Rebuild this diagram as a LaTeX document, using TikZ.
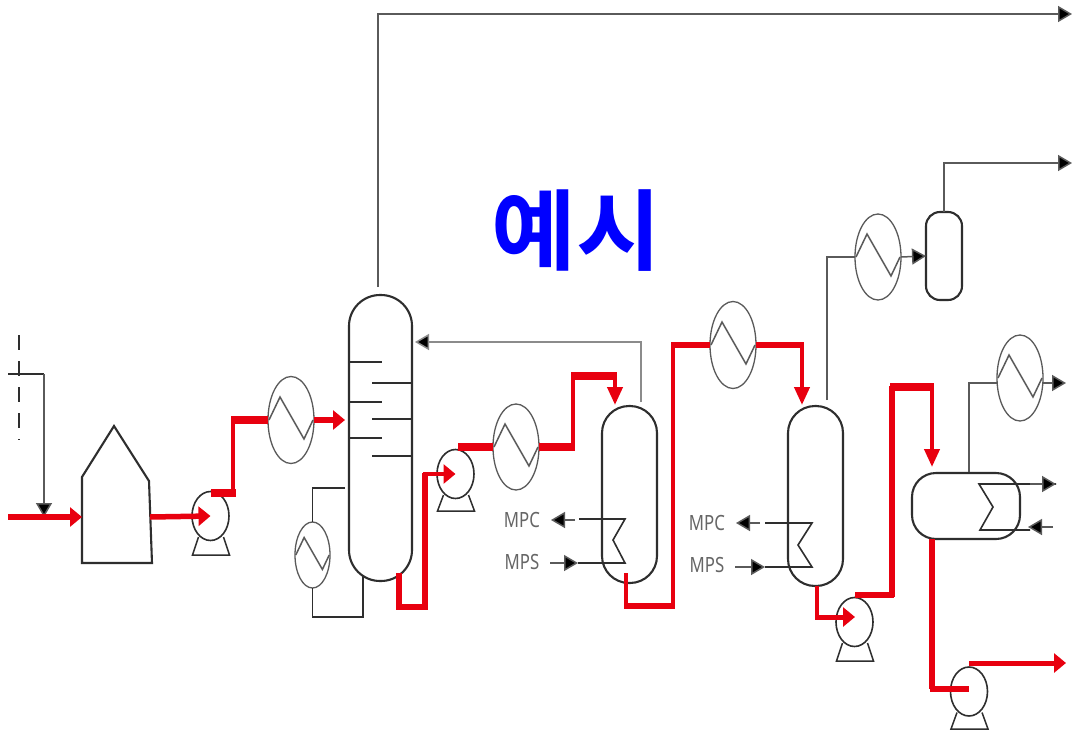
\documentclass[tikz,border=0pt]{standalone}
\usepackage{fontspec}
\setmainfont{Noto Sans}
\newfontfamily\cjk{Noto Sans CJK KR}[BoldFont={* Bold}]
\usetikzlibrary{arrows.meta,shapes.geometric,calc}
\definecolor{pipered}{HTML}{E8000F}
\definecolor{ink}{HTML}{2E2E2E}
\definecolor{thin}{HTML}{5A5A5A}
\definecolor{lab}{HTML}{666666}
\tikzset{
  x=1pt,y=-1pt,
  eqline/.style={draw=ink,line width=1.7pt},
  hxer/.style={ellipse,draw=thin,line width=1.3pt,fill=white,inner sep=0pt,outer sep=0pt,minimum width=#1},
  vessel/.style={rectangle,draw=ink,line width=2.1pt,fill=white,inner sep=0pt,outer sep=0pt},
  pumpbody/.style={ellipse,draw=ink,line width=1.6pt,fill=white,inner sep=0pt,minimum width=37pt,minimum height=49pt},
  rp/.style={draw=pipered,line width=4.5pt,line join=miter},
  rpthick/.style={draw=pipered,line width=7.5pt},
  rtip/.style={draw=pipered,line width=5.5pt,-{Triangle[fill=pipered,length=12pt,width=19pt]}},
  rtipthin/.style={draw=pipered,line width=4pt,-{Triangle[fill=pipered,length=18pt,width=15pt]}},
  gp/.style={draw=thin,line width=1.5pt},
  gtip/.style={draw=thin,line width=1.5pt,-{Triangle[fill=black,length=14pt,width=16pt]}},
  coil/.style={draw=ink,line width=1.6pt},
  lbl/.style={text=lab,font=\fontsize{21}{21}\selectfont,inner sep=0pt,xscale=0.8},
}
\newcommand{\pumpbase}[2]{\draw[gp,draw=ink] ($(#1.center)+(-12,21)$) -- ($(#1.center)+(-18,#2)$) -- ($(#1.center)+(19,#2)$) -- ($(#1.center)+(13,21)$);}
\newcommand{\zigzag}[2]{\draw[draw=thin,line width=1.5pt,line join=miter] ($(#1.center)+#2*(-22,0)$) -- ($(#1.center)+#2*(-11,-23)$) -- ($(#1.center)+#2*(13,19)$) -- ($(#1.center)+#2*(22,0)$);}
\begin{document}
\begin{tikzpicture}
\useasboundingbox (0,0) rectangle (1072,734);
\fill[white] (0,0) rectangle (1072,734);

\coordinate (feedL) at (8,517);
\coordinate (utilL) at (8,374);
\coordinate (dashT) at (19,335);
\coordinate (dashB) at (19,440);
\coordinate (utilR) at (44,374);
\coordinate (utilT) at (44,517);
\coordinate (end1) at (1072,14);
\coordinate (end2) at (1072,163);

% title
\node[font={\cjk\bfseries\fontsize{88}{88}\selectfont},text=blue,inner sep=0pt,xscale=1.05] (title) at (576.5,231) {예시};

% equipment
\node[hxer=46pt,minimum height=87pt] (hxA) at (291,420) {};
\node[hxer=35pt,minimum height=66pt] (hxB) at (312.5,555) {};
\node[hxer=46pt,minimum height=86pt] (hxC) at (516,447) {};
\node[hxer=46pt,minimum height=87pt] (hxD) at (733,345) {};
\node[hxer=46pt,minimum height=86pt] (hxE) at (878,257) {};
\node[hxer=46pt,minimum height=86pt] (hxF) at (1020,378) {};

\node[vessel,minimum width=63pt,minimum height=286pt,rounded corners=31pt] (col) at (380.5,438) {};
\node[vessel,minimum width=55pt,minimum height=177pt,rounded corners=27pt] (vA) at (629.5,494.5) {};
\node[vessel,minimum width=55pt,minimum height=180pt,rounded corners=27pt] (vB) at (815.5,496) {};
\node[vessel,minimum width=36pt,minimum height=88pt,rounded corners=14pt] (rec) at (944,256) {};
\node[vessel,minimum width=108pt,minimum height=66pt,rounded corners=24pt] (drum) at (966,506) {};

\node[pumpbody] (pA) at (210.5,516) {};
\node[pumpbody] (pB) at (455.5,474) {};
\node[pumpbody] (pC) at (854.5,622) {};
\node[pumpbody] (pD) at (969,691.5) {};
\pumpbase{pA}{39}
\pumpbase{pB}{37}
\pumpbase{pC}{39}
\pumpbase{pD}{37.5}

\draw[ink,line width=2.1pt,line join=miter,fill=white] (82,477) -- (114,426) -- (149,481) -- (152,563) -- (82,563) -- cycle;
\node[inner sep=0pt,minimum size=0pt] (furn) at (116,517) {};

\zigzag{hxA}{1}
\zigzag{hxB}{0.76}
\zigzag{hxC}{1}
\zigzag{hxD}{1}
\zigzag{hxE}{1}
\zigzag{hxF}{1}

% column trays
\foreach \yy in {362,402,438} \draw[eqline] (349,\yy) -- (382,\yy);
\foreach \yy in {383,419,456} \draw[eqline] (372,\yy) -- (412,\yy);

% reboiler loop
\draw[coil] (345,488) -| (hxB.north);
\draw[coil] (hxB.south) |- (363,617) -- (363,575);

% utility and feed
\draw[draw=ink,line width=2.2pt,dash pattern=on 15pt off 11pt] (dashT) -- (dashB);
\draw[coil] (utilL) -- (utilR);
\draw[gtip] (utilR) -- (utilT);

% grey overhead lines
\draw[gtip] (378,287) |- (end1);
\draw[gtip,draw=thin!70] (641,402) |- (415,342);
\draw[gp] (827,400) |- (hxE.west);
\draw[gtip] (hxE.east) -- (rec.west);
\draw[gtip] (rec.north) |- (end2);
\draw[gp] (969,472) |- (998,383);
\draw[gtip] (1043,383) -- (1066,383);

% vessel coils
\draw[coil] (579,519) -- (625,519) -- (613,540) -- (625,563) -- (578,563);
\draw[gtip] (575,520) -- (551,520);
\draw[gtip] (550,563) -- (578,563);
\draw[coil] (765,523) -- (812,523) -- (798,545) -- (812,567) -- (765,567);
\draw[gtip] (760,523) -- (736,523);
\draw[gtip] (735,567) -- (765,567);
\draw[coil,line join=miter] (1056,484) -- (979,484) -- (993,507) -- (980,530) -- (1030,530);
\draw[gtip] (1030,484) -- (1056,484);
\draw[gtip] (1053,527) -- (1028,527);

% red process lines
\draw[rtip] (feedL) -- (82,517);
\draw[rtip] (150,517) -- (pA.center);
\draw[rp] (233,495) -- (233,420);
\draw[rpthick] (211,493) -- (235.5,493);
\draw[rpthick] (231,420) -- (hxA.west);
\draw[rtip] (hxA.east) -- (345,420);
\draw[rp,line width=5.5pt] (399,573) -- (399,607) -- (425,607) -- (425,473);
\draw[rtip,line width=4.5pt] (423,474) -- (pB.center);
\draw[rpthick] (458,447) -- (hxC.west);
\draw[rpthick] (hxC.east) -- (575,447);
\draw[rp] (573,447) -- (573,375);
\draw[rpthick] (571,376) -- (617,376);
\draw[rtipthin] (615,376) -- (615,405);
\draw[rp] (626,573) -- (626,606);
\draw[rpthick,line width=5.5pt] (624,606) -- (675,606);
\draw[rp] (673,606) -- (673,345);
\draw[rpthick,line width=6.5pt] (671,345) -- (hxD.west);
\draw[rpthick,line width=6.5pt] (hxD.east) -- (804,345);
\draw[rtipthin] (802,345) -- (802,405);
\draw[rp] (817,586) -- (817,618);
\draw[rtip,line width=5pt] (815,617) -- (855,617);
\draw[rpthick,line width=6.5pt] (855,595) -- (894,595);
\draw[rp,line width=5.5pt] (892,597) -- (892,386);
\draw[rpthick] (890,387) -- (934,387);
\draw[rtipthin,line width=4pt] (932,387) -- (932,467);
\draw[rp,line width=5.5pt] (932,539) -- (932,689);
\draw[rpthick,line width=6.5pt] (929.5,689) -- (969,689);
\draw[rtip,line width=5pt] (969,663) -- (1066,663);

% labels
\node[lbl] (mpcA) at (522,520) {MPC};
\node[lbl] (mpsA) at (522,562) {MPS};
\node[lbl] (mpcB) at (707,523) {MPC};
\node[lbl] (mpsB) at (707,565) {MPS};
\end{tikzpicture}
\end{document}
